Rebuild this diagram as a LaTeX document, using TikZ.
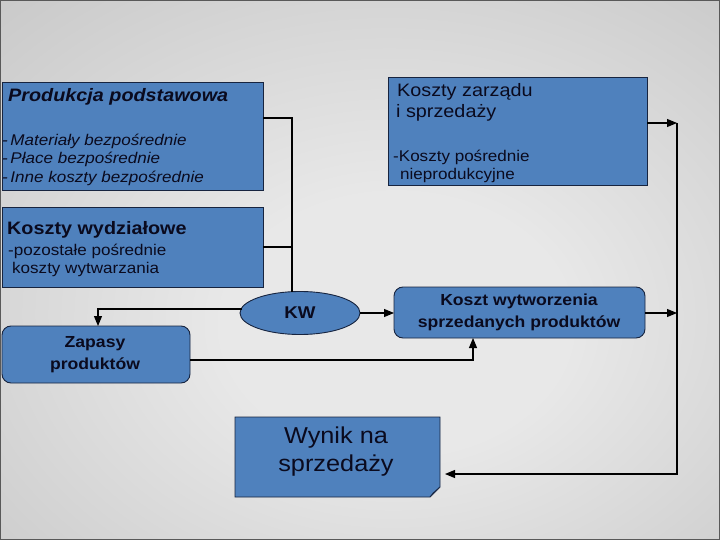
\documentclass[tikz,border=0pt]{standalone}
\usepackage{fontspec}
\setmainfont{Liberation Sans}[FakeStretch=1.1]
\usetikzlibrary{shapes.geometric,arrows.meta}
\definecolor{boxblue}{HTML}{4F81BD}
\definecolor{boxline}{HTML}{17243F}
\definecolor{txt}{HTML}{0A0A1E}
\definecolor{bgin}{HTML}{E8E8E8}
\definecolor{bgmid}{HTML}{C2C2C2}
\definecolor{bgout}{HTML}{939393}
\definecolor{foldblue}{HTML}{7FA3D3}
\pgfdeclareradialshading{bgshade}{\pgfpoint{3bp}{-6bp}}{color(0bp)=(bgin); color(12bp)=(bgin); color(45bp)=(bgmid); color(75bp)=(bgout)}
\begin{document}
\begin{tikzpicture}[x=1pt,y=-1pt,
  box/.style={draw=boxline, fill=boxblue, line width=0.9pt, inner sep=0pt, outer sep=0pt},
  rbox/.style={box, rounded corners=9pt},
  lbl/.style={text=txt, inner sep=0pt, anchor=base west},
  ctr/.style={text=txt, inner sep=0pt, align=center},
  conn/.style={line width=1.1pt, draw=black},
  arr/.style={conn, -{Triangle[length=10pt,width=8pt]}}]
\useasboundingbox (0,0) rectangle (720,540);
\shade[shading=bgshade] (0,0) rectangle (720,540);
\draw[draw=black!65, line width=1.2pt] (0.6,0.6) rectangle (719.4,539.4);

% boxes
\node[box, minimum width=261pt, minimum height=108pt, anchor=north west] (pp) at (2,82) {};
\node[box, minimum width=259pt, minimum height=108pt, anchor=north west] (kz) at (388,77) {};
\node[box, minimum width=261pt, minimum height=80pt, anchor=north west] (kwyd) at (2,207) {};
\node[box, ellipse, minimum width=120pt, minimum height=43pt] (kw) at (300,313) {};
\node[rbox, minimum width=251pt, minimum height=51pt, anchor=north west] (kws) at (394,287) {};
\node[rbox, minimum width=188pt, minimum height=57pt, anchor=north west] (zap) at (2,326) {};
\node[minimum width=205pt, minimum height=80pt, inner sep=0pt, outer sep=0pt, anchor=north west] (wy) at (235,417) {};
\fill[boxblue, draw=boxline, line width=0.9pt]
  (wy.north west) -- (wy.north east) -- ([yshift=10pt]wy.south east) -- ([xshift=-10pt]wy.south east) -- (wy.south west) -- cycle;
\fill[foldblue, draw=boxline, line width=0.6pt]
  ([yshift=10pt]wy.south east) -- ([xshift=-10pt]wy.south east) -- ([xshift=-7pt,yshift=4pt]wy.south east) -- cycle;

% texts
\node[lbl, font=\fontsize{18}{20}\selectfont\bfseries\itshape] (t1) at (8,102) {Produkcja podstawowa};
\node[lbl, font=\fontsize{15.5}{18}\selectfont\itshape] (t2) at (2,146) {-\,Materiały bezpośrednie};
\node[lbl, font=\fontsize{15.5}{18}\selectfont\itshape] (t3) at (2,164) {-\,Płace bezpośrednie};
\node[lbl, font=\fontsize{15.5}{18}\selectfont\itshape] (t4) at (2,183) {-\,Inne koszty bezpośrednie};

\node[lbl, font=\fontsize{18}{20}\selectfont] (t5) at (397,97) {Koszty zarządu};
\node[lbl, font=\fontsize{18}{20}\selectfont] (t6) at (396,118) {i sprzedaży};
\node[lbl, font=\fontsize{15.5}{18}\selectfont] (t7) at (393,162) {-Koszty pośrednie};
\node[lbl, font=\fontsize{15.5}{18}\selectfont] (t8) at (400,180) {nieprodukcyjne};

\node[lbl, font=\fontsize{18}{20}\selectfont\bfseries] (t9) at (7,235) {Koszty wydziałowe};
\node[lbl, font=\fontsize{15.5}{18}\selectfont] (t10) at (8,255) {-pozostałe pośrednie};
\node[lbl, font=\fontsize{15.5}{18}\selectfont] (t11) at (12,273) {koszty wytwarzania};

\node[ctr, font=\fontsize{17}{20}\selectfont\bfseries] (t12) at (kw) {KW};
\node[ctr, font=\fontsize{16}{22}\selectfont\bfseries] (t13) at (519,312) {Koszt wytworzenia\\sprzedanych produktów};
\node[ctr, font=\fontsize{16}{22}\selectfont\bfseries] (t14) at (95,355) {Zapasy\\produktów};
\node[ctr, font=\fontsize{23}{28}\selectfont] (t15) at (336,452) {Wynik na\\sprzedaży};

% connectors
\coordinate (j1) at (292,118);
\draw[conn] (pp.east |- j1) -- (j1) -- (j1 |- kw.north);
\draw[conn] (kwyd.east |- 0,247) -- (292,247);
\coordinate (j3) at (98,309);
\draw[arr] (kw.west |- j3) ++(2,0) -- (j3) -- (j3 |- zap.north);
\draw[arr] (kw.east) -- (kw.east -| kws.west);
\coordinate (j4) at (473,360);
\draw[arr] (zap.east |- j4) -- (j4) -- (j4 |- kws.south);
\coordinate (r1) at (677,123);
\coordinate (r2) at (677,313);
\coordinate (r3) at (677,474);
\draw[arr] (kz.east |- r1) -- (r1);
\draw[arr] (kws.east |- r2) -- (r2);
\draw[arr] (r1) -- (r3) -- ([xshift=5pt]wy.east |- r3);
\end{tikzpicture}
\end{document}
